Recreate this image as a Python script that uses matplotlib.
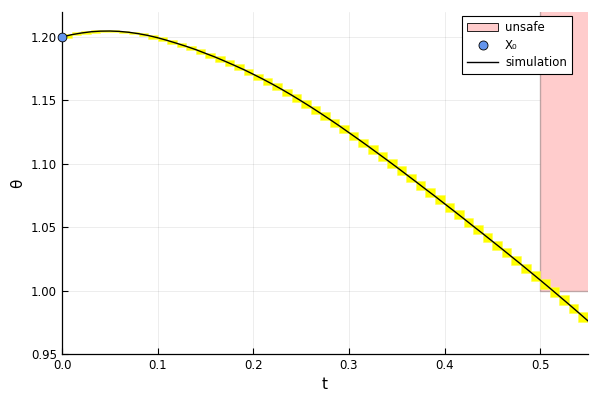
import numpy as np
import matplotlib
matplotlib.use("Agg")
import matplotlib.pyplot as plt
from matplotlib.patches import Rectangle, Patch
from matplotlib.lines import Line2D

# ---- data ----
t_sim = [round(0.01 * i, 2) for i in range(56)]
theta_sim = [
    1.2000, 1.2018, 1.2031, 1.2041, 1.2046, 1.2047, 1.2044, 1.2037, 1.2026, 1.2012, 1.1994,
    1.1973, 1.1950, 1.1926, 1.1900, 1.1871, 1.1842, 1.1810, 1.1777, 1.1743, 1.1706,
    1.1668, 1.1628, 1.1586, 1.1542, 1.1496, 1.1449, 1.1400, 1.1350, 1.1299, 1.1246,
    1.1193, 1.1139, 1.1084, 1.1029, 1.0973, 1.0916, 1.0859, 1.0801, 1.0744, 1.0685,
    1.0627, 1.0568, 1.0508, 1.0449, 1.0389, 1.0329, 1.0268, 1.0207, 1.0145, 1.0083,
    1.0020, 0.9956, 0.9892, 0.9827, 0.9761,
]
box_bloat = 0.0006           # half-thickness added to each reach box
x0_t = [0.0]
x0_theta = [1.2]
unsafe_t = [0.5, 0.6]
unsafe_theta = [1.0, 1.3]
xticks = [0.0, 0.1, 0.2, 0.3, 0.4, 0.5]
yticks = [0.95, 1.00, 1.05, 1.10, 1.15, 1.20]

fig = plt.figure(figsize=(6, 4), dpi=100)
ax = fig.add_axes([62 / 600, 46 / 400, 526 / 600, 342 / 400])

# unsafe region
ax.add_patch(Rectangle((unsafe_t[0], unsafe_theta[0]), unsafe_t[1] - unsafe_t[0],
                       unsafe_theta[1] - unsafe_theta[0],
                       facecolor=(1.0, 0.8, 0.8), edgecolor=(0.6, 0.5, 0.5, 0.6),
                       linewidth=1.0, zorder=1))

# reach set boxes
for i in range(len(t_sim) - 1):
    lo = min(theta_sim[i], theta_sim[i + 1]) - box_bloat
    hi = max(theta_sim[i], theta_sim[i + 1]) + box_bloat
    ax.add_patch(Rectangle((t_sim[i], lo), t_sim[i + 1] - t_sim[i], hi - lo,
                           facecolor=(1.0, 1.0, 0.0), edgecolor=(1.0, 1.0, 0.3, 0.6),
                           linewidth=0.6, zorder=2))

ax.plot(t_sim, theta_sim, color="black", linewidth=1.0, zorder=3)
ax.scatter(x0_t, x0_theta, s=40, color="#6495ED", edgecolor="black",
           linewidth=0.6, zorder=4, clip_on=False)

ax.set_xlim(0, 0.55)
ax.set_ylim(0.95, 1.2197)
ax.set_xticks(xticks)
ax.set_xticklabels([f"{v:.1f}" for v in xticks])
ax.set_yticks(yticks)
ax.set_yticklabels([f"{v:.2f}" for v in yticks])
ax.tick_params(direction="in", length=4, width=0.8, labelsize=8.5, color="black")
ax.grid(True, color="black", alpha=0.1, linewidth=0.5)
ax.set_axisbelow(True)
for s in ["top", "right"]:
    ax.spines[s].set_visible(False)
for s in ["left", "bottom"]:
    ax.spines[s].set_linewidth(0.9)
ax.set_xlabel("t", fontsize=11)
ax.set_ylabel("θ", fontsize=11)

handles = [
    Patch(facecolor=(1.0, 0.8, 0.8), edgecolor="black", linewidth=0.6, label="unsafe"),
    Line2D([], [], linestyle="none", marker="o", markersize=6.5, markerfacecolor="#6495ED",
           markeredgecolor="black", markeredgewidth=0.6, label="X₀"),
    Line2D([], [], color="black", linewidth=1.0, label="simulation"),
]
leg = ax.legend(handles=handles, loc="upper right", bbox_to_anchor=(0.98, 1.005),
                fontsize=8.5, frameon=True, fancybox=False, framealpha=1.0,
                edgecolor="black", borderpad=0.4, handlelength=2.6, labelspacing=0.4,
                handletextpad=0.6)
leg.get_frame().set_linewidth(0.8)

fig.savefig("out.png", dpi=100)
